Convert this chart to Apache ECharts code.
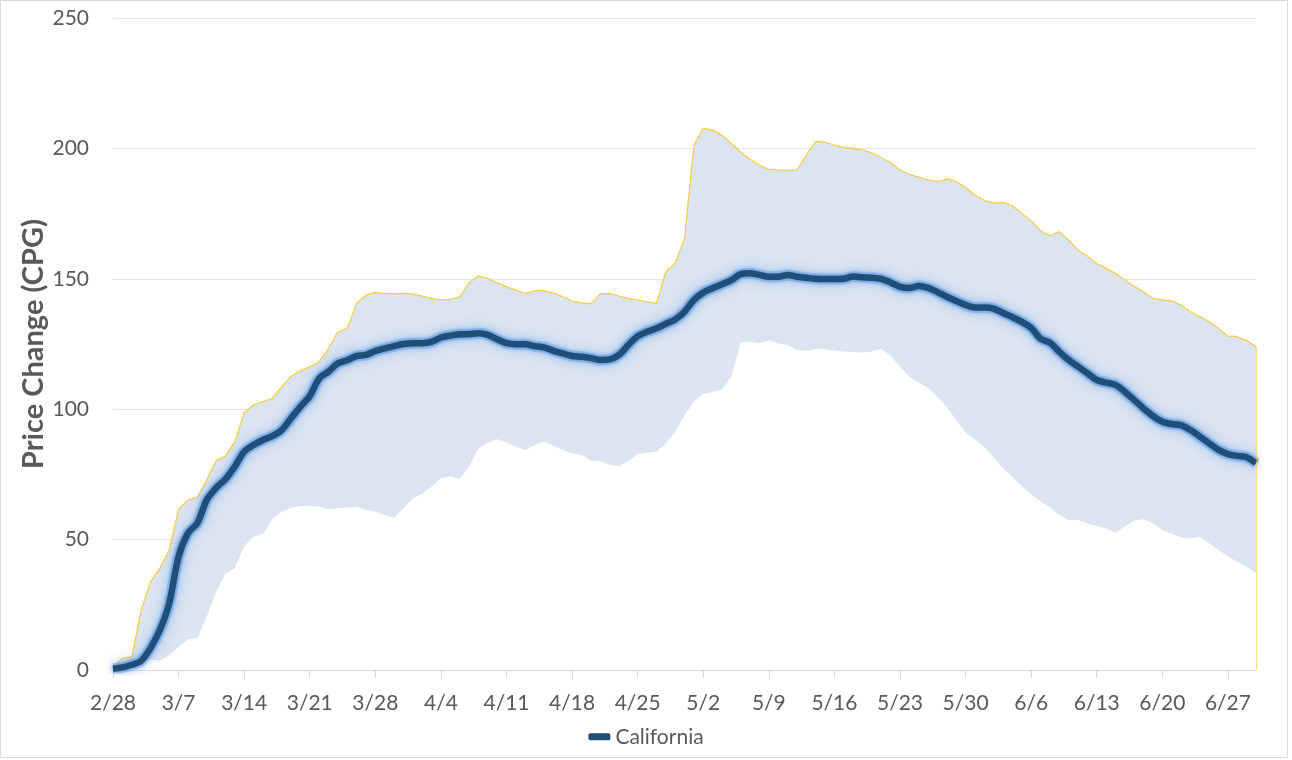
<!DOCTYPE html>
<html>
<head>
    <title>California Price Change</title>
    <style>
        body {
            margin: 0;
            background: #ffffff;
        }

        #chart {
            width: 1292px;
            height: 760px;
        }
    </style>
    <script src="https://cdn.jsdelivr.net/npm/echarts@6/dist/echarts.min.js"></script>
</head>
<body>
    <div id="chart"></div>

    <script>
        // daily categories 2/28 .. 6/30
        var monthDays = [[2, 28, 28], [3, 1, 31], [4, 1, 30], [5, 1, 31], [6, 1, 30]];
        var dates = [];
        monthDays.forEach(function (m) {
            for (var d = m[1]; d <= m[2]; d++) {
                dates.push(m[0] + '/' + d);
            }
        });

        var yTicks = [0, 50, 100, 150, 200, 250];

        var california = [
            0.5, 1, 2, 3.5, 8.4, 15.3, 25.6, 43.5, 52.5, 56.3,
            65.2, 69.8, 73.2, 78, 83.7, 86.3, 88.2, 89.7, 92, 96.5,
            101, 105, 111.8, 114.4, 117.6, 118.8, 120.4, 120.8, 122.3, 123.3,
            124.2, 125, 125.3, 125.3, 125.8, 127.5, 128.2, 128.7, 128.8, 129.1,
            128.5, 126.8, 125.3, 124.9, 124.9, 124.2, 123.7, 122.4, 121.4, 120.4,
            120.1, 119.6, 118.9, 119.1, 120.8, 124.6, 128, 129.7, 131, 132.7,
            134.4, 137.4, 141.9, 144.7, 146.4, 147.9, 149.5, 151.8, 152.1, 151.5,
            150.8, 150.8, 151.5, 150.8, 150.4, 150, 149.9, 149.9, 150, 150.9,
            150.6, 150.4, 150, 148.6, 146.9, 146.5, 147.2, 146.5, 144.9, 143.1,
            141.5, 140, 139, 139, 138.6, 136.9, 135.3, 133.5, 131.2, 127,
            125.5, 122, 118.9, 116.3, 113.8, 111.2, 110.2, 109.3, 106.7, 103.5,
            100.3, 97.4, 95.2, 94.3, 93.9, 92, 89.5, 86.9, 84.4, 82.8,
            82.1, 81.6, 79.3
        ];

        var upper = [
            1, 4.5, 5, 23, 33.9, 39, 46, 61.7, 65.2, 66.2,
            72.8, 80.3, 82, 87.5, 98.7, 101.6, 102.9, 104.2, 108.6, 112.5,
            114.8, 116.3, 118.2, 123.3, 129.7, 131, 140.6, 143.8, 144.8, 144.4,
            144.2, 144.4, 144.2, 143.4, 142.5, 141.9, 142.1, 143.1, 148.5, 151.1,
            150.2, 148.5, 147, 145.7, 144.4, 145.4, 145.4, 144.6, 143.1, 141.5,
            140.8, 140.4, 144.2, 144.4, 143.4, 142.5, 141.9, 141.2, 140.6, 152.8,
            156, 165.6, 201.2, 207.7, 207, 205.1, 201.9, 198.7, 195.8, 193.6,
            192, 191.8, 191.7, 191.8, 197.4, 202.7, 202.4, 201.3, 200.4, 200,
            199.5, 198.3, 196.5, 194.5, 191.7, 190.1, 189, 187.9, 187.3, 188.3,
            187.3, 185.1, 182.1, 180, 179, 179.3, 178, 175, 172.3, 168.5,
            166.5, 168.1, 164.9, 161, 158.7, 155.9, 154, 152.1, 149.5, 147.2,
            145, 142.5, 141.9, 141.5, 140, 137.4, 135.5, 133.6, 131, 128.1,
            127.8, 126.3, 124
        ];

        var lower = [
            0, 0, 1, 3, 4, 3.5, 5.7, 8.8, 11.8, 12.2,
            20.5, 30, 36.8, 39, 47.5, 51.1, 52.1, 57.8, 60.7, 62,
            62.9, 62.9, 62.6, 61.6, 62, 62.3, 62.6, 61.3, 60.7, 59.4,
            58.4, 62, 65.8, 67.7, 70.3, 73.5, 74.4, 73.1, 78, 85,
            87.2, 88.5, 87.2, 85.6, 84.4, 86.3, 87.6, 86, 84.4, 83.1,
            82.4, 80.3, 80, 78.6, 78.2, 80, 82.8, 83.3, 83.7, 86.7,
            91.4, 97.8, 102.9, 105.8, 106.6, 107.5, 112.5, 125.5, 125.9, 125.5,
            126.3, 125.2, 124.6, 122.7, 122.3, 123.2, 123, 122.5, 122.1, 121.9,
            121.6, 122.1, 123.2, 120.5, 116.4, 112.3, 110.2, 108.2, 104.8, 100.7,
            95.9, 91.1, 88.3, 85.6, 81.5, 77.4, 74, 70.6, 67.4, 64.7,
            62.5, 59.4, 57.5, 57.5, 56.2, 55.2, 54.3, 52.7, 55, 57.3,
            57.8, 56.2, 53.7, 52.1, 50.9, 50.5, 50.9, 48.6, 46, 43.5,
            41.5, 39.6, 37.1
        ];

        var textColor = '#595959';
        var fontName = 'Lato';

        var myChart = echarts.init(document.getElementById('chart'));
        var last = dates.length - 1;

        var option = {
            animation: false,
            backgroundColor: '#ffffff',
            graphic: [{
                type: 'rect',
                shape: { x: 0.5, y: 0.5, width: 1287, height: 757 },
                style: { fill: 'none', stroke: '#d9d9d9', lineWidth: 1 },
                silent: true
            }],
            grid: {
                left: 113,
                right: 36,
                top: 18,
                bottom: 90,
                outerBoundsMode: 'none'
            },
            legend: {
                data: ['California'],
                top: 716,
                left: 'center',
                icon: 'roundRect',
                itemWidth: 22,
                itemHeight: 7,
                itemGap: 10,
                textStyle: {
                    color: textColor,
                    fontSize: 21,
                    fontFamily: fontName
                }
            },
            xAxis: {
                type: 'category',
                data: dates,
                boundaryGap: false,
                axisLine: { lineStyle: { color: '#d9d9d9', width: 1 } },
                axisTick: {
                    show: true,
                    interval: 6,
                    length: 8,
                    lineStyle: { color: '#d9d9d9' }
                },
                axisLabel: {
                    interval: 6,
                    margin: 17,
                    color: textColor,
                    fontSize: 21,
                    fontFamily: fontName
                },
                splitLine: { show: false }
            },
            yAxis: {
                type: 'value',
                min: yTicks[0],
                max: yTicks[yTicks.length - 1],
                interval: 50,
                name: 'Price Change (CPG)',
                nameLocation: 'middle',
                nameGap: 57,
                nameMoveOverlap: false,
                nameTextStyle: {
                    color: textColor,
                    fontSize: 29,
                    fontWeight: 'bold',
                    fontFamily: fontName
                },
                axisLine: { show: false },
                axisTick: { show: false },
                axisLabel: {
                    margin: 24,
                    color: textColor,
                    fontSize: 21,
                    fontFamily: fontName
                },
                splitLine: { lineStyle: { color: '#e6e6e6', width: 1 } }
            },
            series: [
                {
                    name: 'Upper',
                    type: 'line',
                    data: upper,
                    symbol: 'none',
                    silent: true,
                    lineStyle: { color: 'rgba(255, 192, 0, 0.75)', width: 1.2 },
                    areaStyle: { color: '#dbe4f1', opacity: 1 },
                    z: 2
                },
                {
                    name: 'Lower',
                    type: 'line',
                    data: lower,
                    symbol: 'none',
                    silent: true,
                    lineStyle: { width: 0 },
                    areaStyle: { color: '#ffffff', opacity: 1 },
                    z: 2,
                    markLine: {
                        silent: true,
                        symbol: 'none',
                        label: { show: false },
                        lineStyle: { color: 'rgba(255, 192, 0, 0.5)', width: 1.2, type: 'solid' },
                        data: [
                            [{ coord: [dates[last], 0] }, { coord: [dates[last], upper[last]] }]
                        ]
                    }
                },
                {
                    // soft glow under the main line
                    name: 'California glow',
                    type: 'line',
                    data: california,
                    symbol: 'none',
                    smooth: 0.3,
                    silent: true,
                    lineStyle: {
                        color: 'rgba(110, 165, 230, 0.45)',
                        width: 11,
                        shadowColor: 'rgba(110, 165, 230, 1)',
                        shadowBlur: 12
                    },
                    z: 3
                },
                {
                    name: 'California',
                    type: 'line',
                    data: california,
                    symbol: 'none',
                    smooth: 0.3,
                    itemStyle: { color: '#1f4e79' },
                    lineStyle: {
                        color: '#1f4e79',
                        width: 6.5,
                        shadowColor: 'rgba(70, 140, 225, 0.8)',
                        shadowBlur: 5
                    },
                    z: 4
                }
            ]
        };

        myChart.setOption(option);
    </script>
</body>
</html>
